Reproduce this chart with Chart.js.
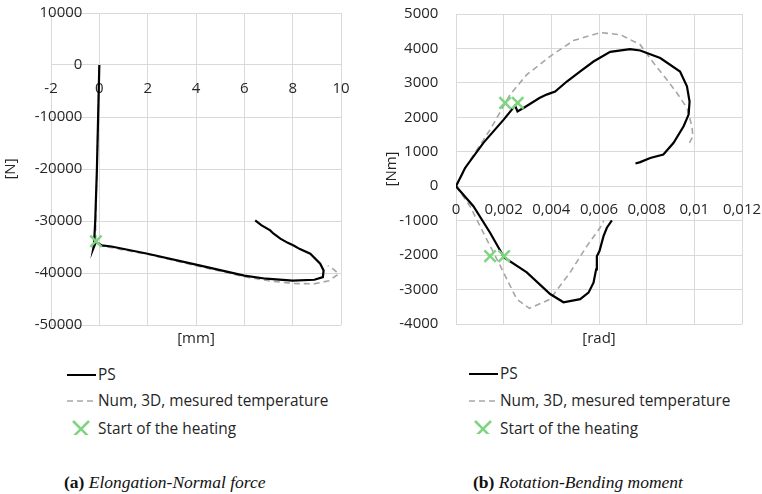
<!DOCTYPE html>
<html lang="en">
<head>
    <meta charset="UTF-8">
    <title>Elongation / Rotation</title>
    <script src="https://cdn.jsdelivr.net/npm/chart.js"></script>
</head>
<style>
    body{
        margin: 0;
        background: #fff;
    }
    .page{
        position: relative;
        width: 762px;
        height: 494px;
        overflow: hidden;
        font-family: "Open Sans", sans-serif;
        color: #262626;
    }
    .page canvas{
        position: absolute;
        top: 0;
    }
    .legendText{
        position: absolute;
        font-size: 15.4px;
        line-height: 20px;
        height: 20px;
        white-space: nowrap;
    }
    .legendIcon{
        position: absolute;
    }
    .caption{
        position: absolute;
        font-family: "Liberation Serif", "Times New Roman", serif;
        font-size: 17.5px;
        line-height: 20px;
        white-space: nowrap;
        color: #111;
    }
    .caption i{
        font-style: italic;
    }
</style>
<body>
<div class="page" id="page">
    <canvas id="elongation" width="381" height="350" style="left:0"></canvas>
    <canvas id="rotation" width="381" height="350" style="left:381px"></canvas>
    <div class="caption" style="left:64px;top:472px"><b>(a)</b> <i>Elongation-Normal force</i></div>
    <div class="caption" style="left:473px;top:472px"><b>(b)</b> <i>Rotation-Bending moment</i></div>
</div>
<script>
    // (a) elongation [mm] vs normal force [N]
    const elongPS = [0, -0.05, -0.1, -0.17, -0.22, -0.25, -0.14, 0.1, 0.5, 2.0, 4.0, 6.0, 6.9, 8.0, 8.9, 9.25, 9.28, 9.14, 8.73, 8.3, 8.04, 7.8, 7.49, 7.2, 7.07, 6.7, 6.45];
    const forcePS = [0, -10000, -20000, -30000, -34500, -35300, -34000, -34700, -34900, -36300, -38400, -40500, -41100, -41450, -41300, -40800, -39500, -38200, -36300, -35400, -34700, -34200, -33400, -32400, -31800, -30800, -29900];
    const elongNum = [0, -0.05, -0.1, -0.15, -0.15, 0.1, 2.0, 4.0, 6.0, 7.0, 8.0, 8.87, 9.5, 9.9, 9.7, 9.45];
    const forceNum = [0, -10000, -20000, -30000, -34000, -34800, -36400, -38600, -40700, -41500, -42000, -42100, -41500, -40200, -39300, -38600];
    const elongHeat = [-0.14];
    const forceHeat = [-33900];

    // (b) rotation [rad] vs bending moment [Nm]
    const rotPSUp = [0, 0.00038, 0.00115, 0.002, 0.00248, 0.00258, 0.0029, 0.0035, 0.0038, 0.00416, 0.00465, 0.0052, 0.00577, 0.00647, 0.0073, 0.00773, 0.00857, 0.0094, 0.00969, 0.0098, 0.00976, 0.00955, 0.00913, 0.0087, 0.00815, 0.00773, 0.00753];
    const momPSUp = [0, 530, 1258, 1933, 2340, 2170, 2300, 2560, 2660, 2750, 3040, 3330, 3620, 3900, 3980, 3940, 3720, 3330, 2900, 2460, 2080, 1740, 1260, 920, 820, 700, 660];
    const rotPSDown = [0, 0.00073, 0.00143, 0.00202, 0.00297, 0.00395, 0.00451, 0.00521, 0.00556, 0.00577, 0.00588, 0.00591, 0.00602, 0.00619, 0.00633, 0.00654];
    const momPSDown = [0, -580, -1350, -2070, -2500, -3130, -3370, -3280, -3090, -2800, -2415, -2030, -1880, -1450, -1205, -995];
    const rotNumUp = [0, 0.00052, 0.00143, 0.00227, 0.00297, 0.00395, 0.00493, 0.00605, 0.00689, 0.00773, 0.00829, 0.00885, 0.00927, 0.00969, 0.0099, 0.00994, 0.00976];
    const momNumUp = [0, 680, 1640, 2660, 3240, 3770, 4230, 4460, 4400, 4110, 3577, 3093, 2707, 2272, 1739, 1449, 1209];
    const rotNumDown = [0, 0.00059, 0.00122, 0.00185, 0.00255, 0.00308, 0.00395, 0.00479, 0.00549, 0.00605, 0.0062];
    const momNumDown = [0, -580, -1450, -2300, -3280, -3545, -3280, -2500, -1740, -1200, -1000];
    const rotHeat = [0.00206, 0.00259, 0.00143, 0.00202];
    const momHeat = [2420, 2420, -2030, -2030];

    const legendLabels = ['PS', 'Num, 3D, mesured temperature', 'Start of the heating'];

    const GRID = '#d9d9d9';
    const TEXT = '#262626';
    const GREEN = '#7fd47f';
    const DASH = '#a6a6a6';
    const tickFont = {family: 'Open Sans', size: 15};

    function pts(xs, ys){
        return xs.map((x, i) => ({x: x, y: ys[i]}));
    }
    function psSet(xs, ys){
        return {data: pts(xs, ys), showLine: true, borderColor: '#000', borderWidth: 2.2, pointRadius: 0, order: 1};
    }
    function numSet(xs, ys){
        return {data: pts(xs, ys), showLine: true, borderColor: DASH, borderDash: [6, 4], borderWidth: 1.6, pointRadius: 0, order: 2};
    }
    function heatSet(xs, ys){
        return {data: pts(xs, ys), showLine: false, pointStyle: 'crossRot', pointRadius: 8, borderColor: GREEN, borderWidth: 2.5, order: 0};
    }

    // y labels sit ~17px left of the x=0 line (excel style), so the y axis is
    // anchored a little left of zero and the real zero line comes from the x grid
    function makeOptions(o){
        return {
            responsive: false,
            animation: false,
            devicePixelRatio: 1,
            layout: {padding: {left: 0, top: o.top, right: o.right, bottom: 0}},
            plugins: {legend: {display: false}, tooltip: {enabled: false}},
            scales: {
                x: {
                    type: 'linear', min: o.xMin, max: o.xMax,
                    position: {y: 0},
                    grid: {color: GRID, drawTicks: false},
                    border: {color: GRID},
                    ticks: {stepSize: o.xStep, padding: 15, color: TEXT, font: tickFont, maxRotation: 0, autoSkip: false, callback: o.xFmt},
                    afterFit: s => { s.paddingLeft = 0; s.paddingRight = 0; }
                },
                xt: {
                    type: 'linear', position: 'bottom',
                    grid: {display: false}, border: {display: false},
                    ticks: {display: false},
                    title: {display: true, text: o.xTitle, color: TEXT, font: tickFont, padding: {top: 0, bottom: 2}},
                    afterFit: s => { s.height = o.bottomH; }
                },
                y: {
                    type: 'linear', min: o.yMin, max: o.yMax,
                    position: {x: o.yAt},
                    grid: {color: GRID, drawTicks: false},
                    border: {display: false},
                    ticks: {stepSize: o.yStep, padding: 0, color: TEXT, font: tickFont, autoSkip: false, callback: v => String(v)},
                    afterFit: s => { s.paddingTop = 0; s.paddingBottom = 0; }
                },
                yt: {
                    type: 'linear', position: 'left',
                    grid: {display: false}, border: {display: false},
                    ticks: {display: false},
                    title: {display: true, text: o.yTitle, color: TEXT, font: tickFont, padding: {top: 2, bottom: 0}},
                    afterFit: s => { s.width = o.leftW; }
                }
            }
        };
    }

    new Chart(document.getElementById('elongation'), {
        type: 'scatter',
        data: {datasets: [heatSet(elongHeat, forceHeat), psSet(elongPS, forcePS), numSet(elongNum, forceNum)]},
        options: makeOptions({
            top: 13, right: 40, leftW: 51, bottomH: 25, yAt: -0.7,
            xMin: -2, xMax: 10, xStep: 2, xFmt: v => String(v), xTitle: '[mm]',
            yMin: -50000, yMax: 10000, yStep: 10000, yTitle: '[N]'
        })
    });

    new Chart(document.getElementById('rotation'), {
        type: 'scatter',
        data: {datasets: [
            heatSet(rotHeat, momHeat),
            psSet(rotPSUp, momPSUp), psSet(rotPSDown, momPSDown),
            numSet(rotNumUp, momNumUp), numSet(rotNumDown, momNumDown)
        ]},
        options: makeOptions({
            top: 14, right: 20, leftW: 75, bottomH: 26, yAt: -0.00074,
            xMin: 0, xMax: 0.012, xStep: 0.002, xFmt: v => String(+v.toFixed(3)).replace('.', ','), xTitle: '[rad]',
            yMin: -4000, yMax: 5000, yStep: 1000, yTitle: '[Nm]'
        })
    });

    // legends under each chart, drawn as plain html
    function addLegend(x0, rows){
        const page = document.getElementById('page');
        const ns = 'http://www.w3.org/2000/svg';
        const svg = document.createElementNS(ns, 'svg');
        svg.setAttribute('class', 'legendIcon');
        svg.setAttribute('width', 40);
        svg.setAttribute('height', 80);
        svg.style.left = x0 + 'px';
        svg.style.top = (rows[0] - 20) + 'px';
        const base = rows[0] - 20;
        function line(x1, y1, x2, y2, color, w, dash){
            const l = document.createElementNS(ns, 'line');
            l.setAttribute('x1', x1); l.setAttribute('y1', y1);
            l.setAttribute('x2', x2); l.setAttribute('y2', y2);
            l.setAttribute('stroke', color); l.setAttribute('stroke-width', w);
            if (dash) l.setAttribute('stroke-dasharray', dash);
            svg.appendChild(l);
        }
        line(0, rows[0] - base, 29, rows[0] - base, '#000', 2, null);
        line(0, rows[1] - base, 29, rows[1] - base, DASH, 1.6, '6 4');
        const cx = 14, cy = rows[2] - base;
        line(cx - 8, cy - 8, cx + 8, cy + 8, GREEN, 2.5, null);
        line(cx - 8, cy + 8, cx + 8, cy - 8, GREEN, 2.5, null);
        page.appendChild(svg);
        legendLabels.forEach((t, i) => {
            const d = document.createElement('div');
            d.className = 'legendText';
            d.textContent = t;
            d.style.left = (x0 + 31) + 'px';
            d.style.top = (rows[i] - 10) + 'px';
            page.appendChild(d);
        });
    }
    addLegend(67, [375, 401, 429]);
    addLegend(469, [374, 401, 429]);
</script>
</body>
</html>
